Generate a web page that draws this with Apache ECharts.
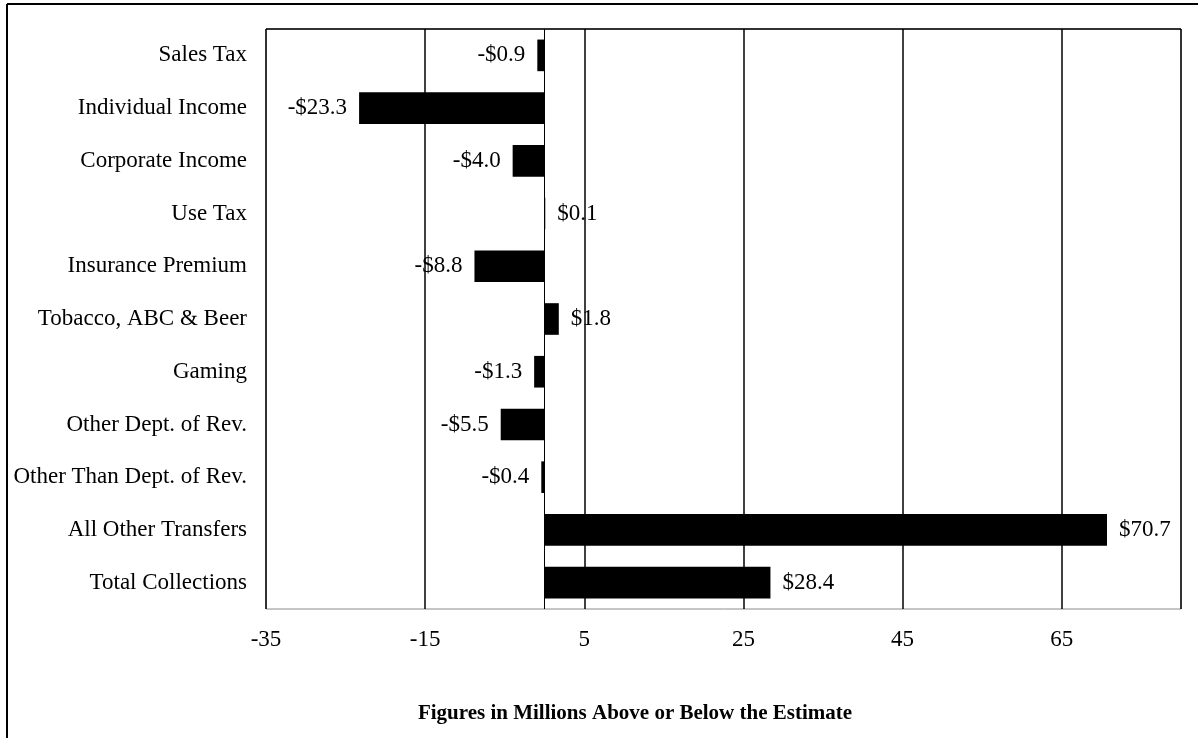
<!DOCTYPE html>
<html>
<head>
<meta charset="utf-8">
<script src="https://cdn.jsdelivr.net/npm/echarts@6/dist/echarts.min.js"></script>
<style>
html,body{margin:0;padding:0;background:#fff;}
#chart{width:1198px;height:738px;}
</style>
</head>
<body>
<div id="chart"></div>
<script>
const categories = ["Sales Tax","Individual Income","Corporate Income","Use Tax","Insurance Premium","Tobacco, ABC & Beer","Gaming","Other Dept. of Rev.","Other Than Dept. of Rev.","All Other Transfers","Total Collections"];
const values = [-0.9,-23.3,-4.0,0.1,-8.8,1.8,-1.3,-5.5,-0.4,70.7,28.4];
const axisTitle = "Figures in Millions Above or Below the Estimate";

const FONT = '"Liberation Serif","Times New Roman",serif';
function fmt(v){ return (v<0?'-$':'$') + Math.abs(v).toFixed(1); }

const chart = echarts.init(document.getElementById('chart'));
chart.setOption({
  animation:false,
  backgroundColor:'#fff',
  grid:{left:266,right:17,top:29,bottom:129,show:true,borderColor:'#8c8c8c',borderWidth:1},
  xAxis:{
    type:'value',min:-35,max:80,interval:20,
    axisLine:{show:false},axisTick:{show:false},
    splitLine:{show:true,lineStyle:{color:'#000',width:1.5}},
    axisLabel:{showMaxLabel:false,color:'#000',fontFamily:FONT,fontSize:23,margin:19}
  },
  yAxis:{
    type:'category',data:categories,inverse:true,
    axisLine:{show:false,onZero:false},axisTick:{show:false},
    axisLabel:{color:'#000',fontFamily:FONT,fontSize:23,margin:19}
  },
  series:[{
    type:'bar',
    data:values.map(v=>({value:v,label:{position:v<0?'left':'right'}})),
    barWidth:'60%',
    itemStyle:{color:'#000'},
    label:{show:true,distance:12,color:'#000',fontFamily:FONT,fontSize:23,formatter:p=>fmt(p.value)},
    markLine:{silent:true,symbol:'none',label:{show:false},lineStyle:{color:'#000',width:1,type:'solid'},data:[{xAxis:0}]}
  }],
  graphic:[
    {type:'line',shape:{x1:7,y1:4,x2:1198,y2:4},style:{stroke:'#000',lineWidth:2}},
    {type:'line',shape:{x1:7,y1:4,x2:7,y2:738},style:{stroke:'#000',lineWidth:2}},
    {type:'line',shape:{x1:266,y1:29,x2:1181,y2:29},style:{stroke:'#000',lineWidth:1.5}},
    {type:'text',x:635,y:714,style:{text:axisTitle,font:'bold 21px '+FONT,fill:'#000',textAlign:'center',textVerticalAlign:'middle'}}
  ]
});
</script>
</body>
</html>
